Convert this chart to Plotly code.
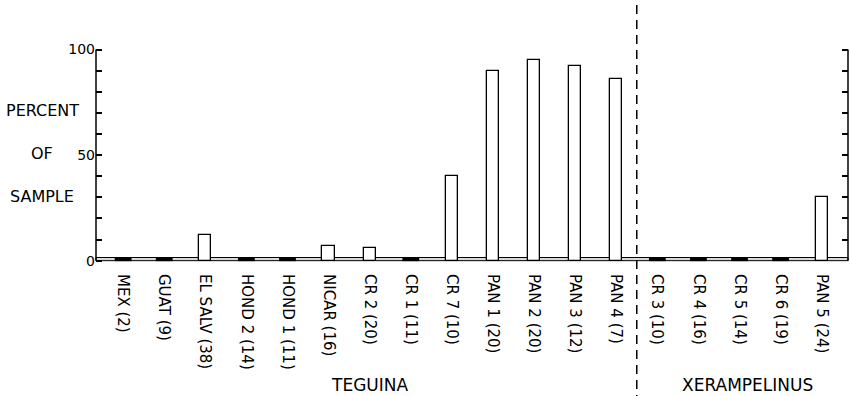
import plotly.graph_objects as go

categories = ["MEX (2)", "GUAT (9)", "EL SALV (38)", "HOND 2 (14)", "HOND 1 (11)",
              "NICAR (16)", "CR 2 (20)", "CR 1 (11)", "CR 7 (10)", "PAN 1 (20)",
              "PAN 2 (20)", "PAN 3 (12)", "PAN 4 (7)",
              "CR 3 (10)", "CR 4 (16)", "CR 5 (14)", "CR 6 (19)", "PAN 5 (24)"]
percent = [0, 0, 12, 0, 0, 7, 6, 0, 40, 90, 95, 92, 86, 0, 0, 0, 0, 30]
groups = ["TEGUINA", "XERAMPELINUS"]
group_sizes = [13, 5]
y_ticks = list(range(0, 101, 10))
y_ticktext = ["0", "", "", "", "", "50", "", "", "", "", "100"]

FONT = "DejaVu Sans"
xs = list(range(len(categories)))
nonzero_x = [x for x, v in zip(xs, percent) if v > 0]
nonzero_y = [v for v in percent if v > 0]
zero_x = [x for x, v in zip(xs, percent) if v == 0]
zero_y = [0.6 for v in percent if v == 0]

fig = go.Figure()
fig.add_trace(go.Bar(x=nonzero_x, y=nonzero_y, width=0.3,
                     marker=dict(color="white", line=dict(color="black", width=1.3)),
                     showlegend=False, hoverinfo="skip"))
fig.add_trace(go.Scatter(x=zero_x, y=zero_y, mode="markers",
                         marker=dict(symbol="line-ew", size=12,
                                     line=dict(color="black", width=3.5)),
                         showlegend=False, hoverinfo="skip"))
fig.add_trace(go.Scatter(x=[0], y=[0], yaxis="y2", mode="markers",
                         marker=dict(opacity=0), showlegend=False, hoverinfo="skip"))

# baseline band
fig.add_shape(type="rect", xref="paper", yref="y", x0=0, x1=1, y0=0, y1=1.5,
              line=dict(color="black", width=1), fillcolor="#d8d8d8", layer="below")
# axis lines
for px in (0, 1):
    fig.add_shape(type="line", xref="paper", yref="y", x0=px, x1=px, y0=0, y1=100,
                  line=dict(color="black", width=1.5))
# divider
split = group_sizes[0] - 0.5
fig.add_shape(type="line", xref="x", yref="paper", x0=split, x1=split,
              y0=1.149, y1=-0.57, line=dict(color="black", width=1.5, dash="9px,6px"))

# group labels
centers = [(group_sizes[0] - 1) / 2, group_sizes[0] + (group_sizes[1] - 1) / 2 + 0.2]
for g, c in zip(groups, centers):
    fig.add_annotation(x=c, xref="x", y=-0.5175, yref="paper", text=g, showarrow=False,
                       xanchor="center", yanchor="middle",
                       font=dict(family=FONT, size=17, color="black"))
# y title
for txt, yy in (("PERCENT", 70.9), ("OF", 51), ("SAMPLE", 30.6)):
    fig.add_annotation(x=-0.0718, xref="paper", y=yy, yref="y", text=txt,
                       showarrow=False, xanchor="center", yanchor="middle",
                       font=dict(family=FONT, size=16, color="black"))

fig.update_layout(
    width=850, height=396,
    margin=dict(l=96, r=2, t=39, b=129),
    paper_bgcolor="white", plot_bgcolor="white",
    bargap=0,
    font=dict(family=FONT, color="black"),
    xaxis=dict(range=[-0.66, 17.64], tickmode="array", tickvals=xs, ticktext=categories,
               tickangle=90, showgrid=False, zeroline=False, showline=False, ticks="",
               tickfont=dict(family=FONT, size=15, color="black"), ticklabelstandoff=6),
    yaxis=dict(range=[-3, 105], tickmode="array", tickvals=y_ticks, ticktext=y_ticktext,
               ticks="inside", ticklen=6, tickwidth=1.5, tickcolor="black",
               showgrid=False, zeroline=False, showline=False,
               tickfont=dict(family=FONT, size=14, color="black")),
    yaxis2=dict(range=[-3, 105], overlaying="y", side="right", tickmode="array",
                tickvals=y_ticks[1:], ticktext=[""] * 10, ticks="inside", ticklen=6,
                tickwidth=1.5, tickcolor="black", showgrid=False, zeroline=False,
                showline=False, showticklabels=False),
)

fig.write_html("out.html")
